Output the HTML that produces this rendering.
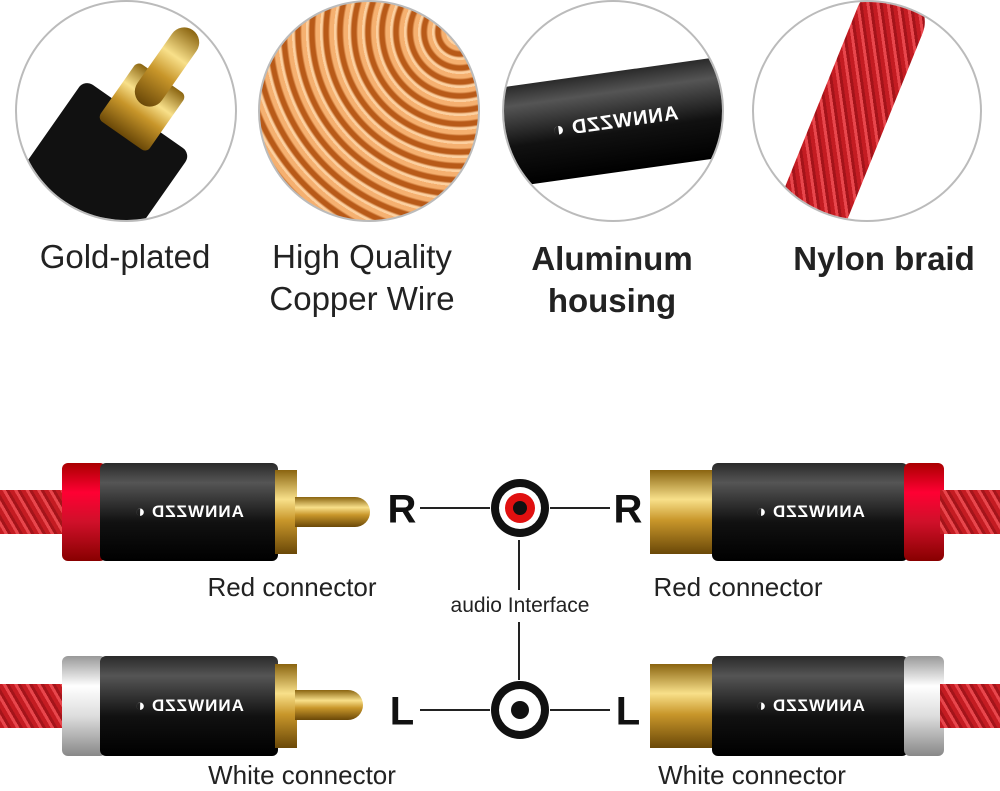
<!DOCTYPE html>
<html><head><meta charset="utf-8"><style>
body{margin:0;width:1000px;height:789px;background:#fff;overflow:hidden;position:relative;font-family:"Liberation Sans",sans-serif}
.a{position:absolute}
.t{position:absolute;font-size:33px;color:#222;text-align:center;transform:translateX(-50%);white-space:nowrap;line-height:42px}
.b{font-weight:bold;font-size:33px}
.s{position:absolute;font-size:26px;color:#222;transform:translateX(-50%);white-space:nowrap}
.L{position:absolute;font-size:40px;font-weight:bold;color:#111;transform:translate(-50%,-50%)}
.circ{position:absolute;border-radius:50%;border:2px solid #bbb;overflow:hidden;box-sizing:border-box}
.braid{background:repeating-linear-gradient(60deg,#c41c22 0 4px,#e8464c 4px 7px,#a4141a 7px 10px)}
.body{background:linear-gradient(#2a2a2a,#555 20%,#111 60%,#000);border-radius:6px;color:#fff;font-size:17px;font-weight:bold;display:flex;align-items:center;justify-content:center;letter-spacing:1px}
.body span{display:inline-block;transform:scaleX(-1)}
.gold{background:linear-gradient(#8a6410,#f8e08a 35%,#c8962a 60%,#6a4808)}
.red{background:linear-gradient(#a00,#f03 30%,#d0102a 60%,#800)}
.wht{background:linear-gradient(#999,#fff 30%,#ddd 60%,#888)}
</style></head><body>
<div class="circ" style="left:15px;top:0;width:222px;height:222px;background:#fff">
 <div class="a" style="left:10px;top:100px;width:130px;height:160px;background:#111;transform:rotate(35deg);border-radius:10px"></div>
 <div class="a gold" style="left:95px;top:70px;width:60px;height:70px;transform:rotate(35deg);border-radius:6px"></div>
 <div class="a gold" style="left:135px;top:20px;width:30px;height:90px;transform:rotate(35deg);border-radius:15px"></div>
</div>
<div class="circ" style="left:258px;top:0;width:222px;height:222px;background:repeating-radial-gradient(circle at 200px 30px,#f5b070 0 4px,#b85a18 6px 10px,#fcd0a0 12px 14px)"></div>
<div class="circ" style="left:502px;top:0;width:222px;height:222px;background:#fff">
 <div class="a body" style="left:0;top:70px;width:222px;height:100px;transform:rotate(-8deg);font-size:20px"><span>ANNWZZD ◐</span></div>
</div>
<div class="circ" style="left:752px;top:0;width:230px;height:222px;background:#fff">
 <div class="a braid" style="left:60px;top:-20px;width:70px;height:280px;transform:rotate(22deg);border-radius:30px"></div>
</div>
<div class="t" style="left:125px;top:236px">Gold-plated</div>
<div class="t" style="left:362px;top:236px">High Quality<br>Copper Wire</div>
<div class="t b" style="left:612px;top:238px">Aluminum<br>housing</div>
<div class="t b" style="left:884px;top:238px">Nylon braid</div>

<div class="a braid" style="left:0;top:490px;width:70px;height:44px"></div>
<div class="a red" style="left:62px;top:463px;width:44px;height:98px;border-radius:6px"></div>
<div class="a body" style="left:100px;top:463px;width:178px;height:98px"><span>ANNWZZD ◐</span></div>
<div class="a gold" style="left:275px;top:470px;width:22px;height:84px"></div>
<div class="a gold" style="left:295px;top:497px;width:75px;height:30px;border-radius:0 15px 15px 0"></div>
<div class="a gold" style="left:650px;top:470px;width:64px;height:84px"></div>
<div class="a body" style="left:712px;top:463px;width:196px;height:98px"><span>ANNWZZD ◐</span></div>
<div class="a red" style="left:904px;top:463px;width:40px;height:98px;border-radius:6px"></div>
<div class="a braid" style="left:940px;top:490px;width:60px;height:44px"></div>
<div class="a braid" style="left:0;top:684px;width:70px;height:44px"></div>
<div class="a wht" style="left:62px;top:656px;width:44px;height:100px;border-radius:6px"></div>
<div class="a body" style="left:100px;top:656px;width:178px;height:100px"><span>ANNWZZD ◐</span></div>
<div class="a gold" style="left:275px;top:664px;width:22px;height:84px"></div>
<div class="a gold" style="left:295px;top:690px;width:68px;height:30px;border-radius:0 15px 15px 0"></div>
<div class="a gold" style="left:650px;top:664px;width:64px;height:84px"></div>
<div class="a body" style="left:712px;top:656px;width:196px;height:100px"><span>ANNWZZD ◐</span></div>
<div class="a wht" style="left:904px;top:656px;width:40px;height:100px;border-radius:6px"></div>
<div class="a braid" style="left:940px;top:684px;width:60px;height:44px"></div>

<svg class="a" style="left:0;top:0" width="1000" height="789">
<g stroke="#222" stroke-width="2">
<line x1="420" y1="508" x2="490" y2="508"/><line x1="550" y1="508" x2="610" y2="508"/>
<line x1="420" y1="710" x2="490" y2="710"/><line x1="550" y1="710" x2="610" y2="710"/>
<line x1="519" y1="540" x2="519" y2="590"/><line x1="519" y1="622" x2="519" y2="680"/>
</g>
<circle cx="520" cy="508" r="29" fill="#111"/><circle cx="520" cy="508" r="21" fill="#fff"/><circle cx="520" cy="508" r="15" fill="#e01010"/><circle cx="520" cy="508" r="7" fill="#111"/>
<circle cx="520" cy="710" r="29" fill="#111"/><circle cx="520" cy="710" r="21" fill="#fff"/><circle cx="520" cy="710" r="9" fill="#111"/>
</svg>
<div class="L" style="left:402px;top:510px">R</div>
<div class="L" style="left:628px;top:510px">R</div>
<div class="L" style="left:402px;top:712px">L</div>
<div class="L" style="left:628px;top:712px">L</div>
<div class="s" style="left:292px;top:572px">Red connector</div>
<div class="s" style="left:738px;top:572px">Red connector</div>
<div class="s" style="left:520px;top:594px;font-size:21px">audio Interface</div>
<div class="s" style="left:302px;top:760px">White connector</div>
<div class="s" style="left:752px;top:760px">White connector</div>
</body></html>
